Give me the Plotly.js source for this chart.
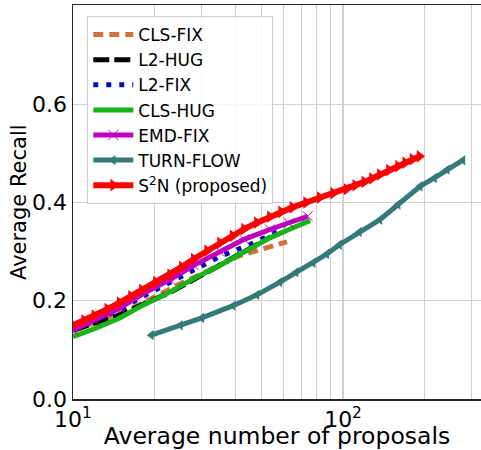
<!DOCTYPE html>
<html>
<head>
<meta charset="utf-8">
<script src="https://cdn.plot.ly/plotly-3.0.1.min.js"></script>
<style>html,body{margin:0;padding:0;overflow:hidden;background:#fff}</style>
</head>
<body>
<div id="chart" style="width:481px;height:450px"></div>
<script>
// CLS-FIX
const clsFixX = [10, 13, 17.3, 21, 25, 32, 40.5, 50, 62];
const clsFixY = [0.138, 0.163, 0.190, 0.213, 0.235, 0.262, 0.290, 0.305, 0.320];
// L2-HUG
const l2HugX = [10, 12, 14.9, 18, 22.9, 28, 35, 45, 54];
const l2HugY = [0.140, 0.153, 0.171, 0.192, 0.217, 0.243, 0.272, 0.305, 0.330];
// L2-FIX
const l2FixX = [10, 12, 14.9, 18, 22.9, 28, 35, 45, 57];
const l2FixY = [0.143, 0.160, 0.182, 0.208, 0.237, 0.263, 0.290, 0.314, 0.340];
// CLS-HUG
const clsHugX = [10, 12, 14.9, 18, 22.9, 28, 35, 43, 53.6, 65, 75.5];
const clsHugY = [0.127, 0.143, 0.165, 0.190, 0.218, 0.245, 0.272, 0.300, 0.328, 0.348, 0.363];
// EMD-FIX
const emdFixX = [10, 12, 14.9, 18, 22.9, 28, 35, 43, 53.6, 63, 74];
const emdFixY = [0.140, 0.160, 0.185, 0.213, 0.243, 0.272, 0.300, 0.325, 0.345, 0.358, 0.372];
// TURN-FLOW
const turnX = [19.5, 25, 30, 39.2, 48, 58.4, 67, 77.5, 87, 97, 115, 137, 160, 193, 218, 243, 278];
const turnY = [0.130, 0.150, 0.165, 0.190, 0.212, 0.238, 0.258, 0.277, 0.295, 0.314, 0.340, 0.365, 0.396, 0.433, 0.450, 0.467, 0.486];
// S2N (proposed)
const s2nX = [10, 11, 12, 13.4, 14.9, 16.4, 18, 20.3, 22.9, 25.3, 28, 31.4, 35, 39, 43, 48, 53.6, 59, 65, 73, 82, 92, 103, 111, 120, 128, 137, 148, 160, 170, 181, 192];
const s2nY = [0.150, 0.160, 0.170, 0.183, 0.196, 0.209, 0.222, 0.238, 0.253, 0.269, 0.285, 0.302, 0.318, 0.332, 0.346, 0.359, 0.371, 0.381, 0.390, 0.400, 0.410, 0.419, 0.427, 0.435, 0.442, 0.449, 0.457, 0.466, 0.474, 0.481, 0.488, 0.494];

const xTickVals = [10, 20, 30, 40, 50, 60, 70, 80, 90, 100, 200, 300];
const xTickText = ['10<sup>1</sup>', '', '', '', '', '', '', '', '', '10<sup>2</sup>', '', ''];
const yTickVals = [0.0, 0.2, 0.4, 0.6];
const yTitle = 'Average Recall';
const xTitle = 'Average number of proposals';

const FONT = 'DejaVu Sans, sans-serif';

const traces = [
  {name: 'CLS-FIX', x: clsFixX, y: clsFixY, mode: 'lines',
   line: {color: '#d2703a', width: 5, dash: '10px,6px'}},
  {name: 'L2-HUG', x: l2HugX, y: l2HugY, mode: 'lines',
   line: {color: '#000000', width: 5, dash: '16px,5px'}},
  {name: 'L2-FIX', x: l2FixX, y: l2FixY, mode: 'lines',
   line: {color: '#0a0ab4', width: 5, dash: '5px,8px'}},
  {name: 'CLS-HUG', x: clsHugX, y: clsHugY, mode: 'lines',
   line: {color: '#16b416', width: 5}},
  {name: 'EMD-FIX', x: emdFixX, y: emdFixY, mode: 'lines+markers',
   line: {color: '#bf00bf', width: 5},
   marker: {symbol: 'x-thin-open', size: 10, color: '#bf00bf', line: {color: '#bf00bf', width: 1}}},
  {name: 'TURN-FLOW', x: turnX, y: turnY, mode: 'lines+markers',
   line: {color: '#367a78', width: 5},
   marker: {symbol: 'triangle-left', size: 9, color: '#367a78'}},
  {name: 'S<sup>2</sup>N (proposed)', x: s2nX, y: s2nY, mode: 'lines+markers',
   line: {color: '#ff0000', width: 6},
   marker: {symbol: 'triangle-right', size: 11, color: '#ff0000'}}
];

const layout = {
  width: 481, height: 450,
  margin: {l: 73, r: 0, t: 5, b: 51},
  paper_bgcolor: '#ffffff', plot_bgcolor: '#ffffff',
  font: {family: FONT, color: '#000000', size: 20},
  showlegend: true,
  legend: {
    x: 0.035, y: 0.972, xanchor: 'left', yanchor: 'top',
    bgcolor: 'rgba(255,255,255,0.85)', bordercolor: '#cccccc', borderwidth: 1,
    font: {family: FONT, size: 17, color: '#000000'},
    itemwidth: 40, tracegroupgap: 0
  },
  xaxis: {
    type: 'log', range: [1, 2.511],
    tickmode: 'array', tickvals: xTickVals, ticktext: xTickText,
    showgrid: true, gridcolor: '#cfcfcf', gridwidth: 1.2,
    showline: true, linecolor: '#262626', linewidth: 1.5, mirror: true,
    ticks: '', zeroline: false,
    tickfont: {family: FONT, size: 22, color: '#000'},
    title: {text: xTitle, font: {family: FONT, size: 23.5, color: '#000'}, standoff: 0}
  },
  yaxis: {
    range: [0, 0.802],
    tickmode: 'array', tickvals: yTickVals, tickformat: '.1f',
    showgrid: true, gridcolor: '#cfcfcf', gridwidth: 1.2,
    showline: true, linecolor: '#262626', linewidth: 1.5,
    ticks: '', zeroline: false,
    tickfont: {family: FONT, size: 22, color: '#000'}
  },
  annotations: [{
    text: yTitle, textangle: -90, showarrow: false,
    xref: 'paper', yref: 'paper', x: 0, y: 0.5,
    xanchor: 'center', yanchor: 'middle', xshift: -54,
    font: {family: FONT, size: 21, color: '#000'}
  }]
};

Plotly.newPlot('chart', traces, layout, {displayModeBar: false, staticPlot: true});
</script>
</body>
</html>
